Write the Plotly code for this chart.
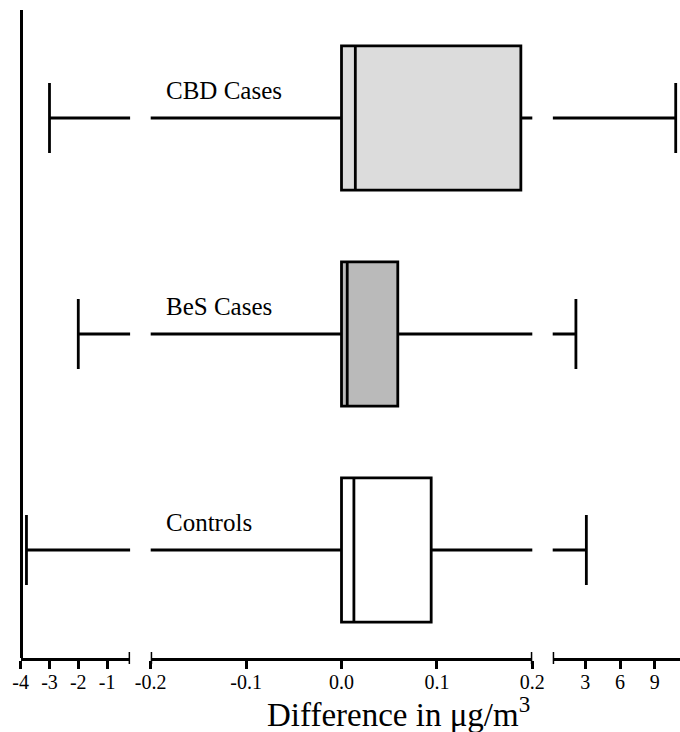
import plotly.graph_objects as go

# ---- data ----
groups = ["Controls", "BeS Cases", "CBD Cases"]
positions = [0, 1, 2]
lower_whisker = [-3.8, -2.0, -3.0]
q1 = [0.0, 0.0, 0.0]
median = [0.013, 0.006, 0.0145]
q3 = [0.094, 0.059, 0.188]
upper_whisker = [3.1, 2.2, 10.8]
fill_colors = ["#ffffff", "#bababa", "#dcdcdc"]

left_ticks = [-4, -3, -2, -1]
mid_ticks = [-0.2, -0.1, 0.0, 0.1, 0.2]
mid_ticktext = ["-0.2", "-0.1", "0.0", "0.1", "0.2"]
right_ticks = [3, 6, 9]

left_range = [-4, -0.2]
mid_range = [-0.2, 0.2]
right_range = [0.2, 11.17]

# ---- layout helpers ----
W, H = 680, 732
ML, MR, MT, MB = 0, 0, 10, 74
PW = W - ML - MR
PH = H - MT - MB
FONT = "Liberation Serif, Times New Roman, serif"
BOX_W = 0.667
CAP = 0.162
LW = 2.8


def fx(p):
    return (p - ML) / PW


fig = go.Figure()

side_axes = ["x", "x3"]
for i, g in enumerate(groups):
    fig.add_trace(go.Box(
        orientation="h",
        y=[positions[i]],
        q1=[q1[i]], median=[median[i]], q3=[q3[i]],
        lowerfence=[lower_whisker[i]], upperfence=[upper_whisker[i]],
        xaxis="x2", yaxis="y",
        width=BOX_W, whiskerwidth=0.486,
        fillcolor=fill_colors[i],
        line=dict(color="black", width=LW),
        boxpoints=False, hoverinfo="skip", showlegend=False,
    ))
    for ax in side_axes:
        p = positions[i]
        fig.add_trace(go.Scatter(
            x=[lower_whisker[i], q1[i], None, q3[i], upper_whisker[i],
               None, lower_whisker[i], lower_whisker[i], None, upper_whisker[i], upper_whisker[i]],
            y=[p, p, None, p, p, None, p - CAP, p + CAP, None, p - CAP, p + CAP],
            mode="lines", line=dict(color="black", width=LW),
            xaxis=ax, yaxis="y", hoverinfo="skip", showlegend=False,
        ))

common_x = dict(showline=True, linecolor="black", linewidth=LW,
                ticks="outside", ticklen=8, tickwidth=LW, tickcolor="black",
                ticklabelstandoff=-4,
                showgrid=False, zeroline=False, anchor="y", automargin=False,
                tickfont=dict(family=FONT, size=20, color="black"))

fig.update_layout(
    width=W, height=H,
    margin=dict(l=ML, r=MR, t=MT, b=MB, autoexpand=False),
    plot_bgcolor="white", paper_bgcolor="white",
    showlegend=False,
    xaxis=dict(domain=[fx(20.7), fx(130.1)], range=left_range,
               tickvals=left_ticks, ticktext=[str(t) for t in left_ticks], **common_x),
    xaxis2=dict(domain=[fx(150.7), fx(532.3)], range=mid_range,
                tickvals=mid_ticks, ticktext=mid_ticktext, **common_x),
    xaxis3=dict(domain=[fx(552.7), 1.0], range=right_range,
                tickvals=right_ticks, ticktext=[str(t) for t in right_ticks], **common_x),
    yaxis=dict(range=[-0.5, 2.5], showline=True, linecolor="black", linewidth=LW,
               showticklabels=False, ticks="", showgrid=False, zeroline=False,
               anchor="free", position=fx(20.7), automargin=False),
)

breaks = [("x", left_range[1]), ("x2", mid_range[0]), ("x2", mid_range[1]), ("x3", right_range[0])]
for ax, xv in breaks:
    fig.add_shape(type="line", xref=ax, x0=xv, x1=xv, yref="paper",
                  y0=-6 / PH, y1=6 / PH, line=dict(color="black", width=3))

for i, g in enumerate(groups):
    fig.add_annotation(text=g, xref="paper", x=fx(164), xanchor="left",
                       yref="y", y=positions[i], yanchor="bottom", yshift=12,
                       showarrow=False, font=dict(family=FONT, size=25, color="black"))

fig.add_annotation(text="Difference in μg/m<sup>3</sup>", xref="paper", x=fx(398),
                   xanchor="center", yref="paper", y=-(712 - (H - MB)) / PH,
                   yanchor="middle",
                   showarrow=False, font=dict(family=FONT, size=33, color="black"))

fig.write_html("out.html", config={"displayModeBar": False},
               post_script="document.body.style.margin='0px';")
